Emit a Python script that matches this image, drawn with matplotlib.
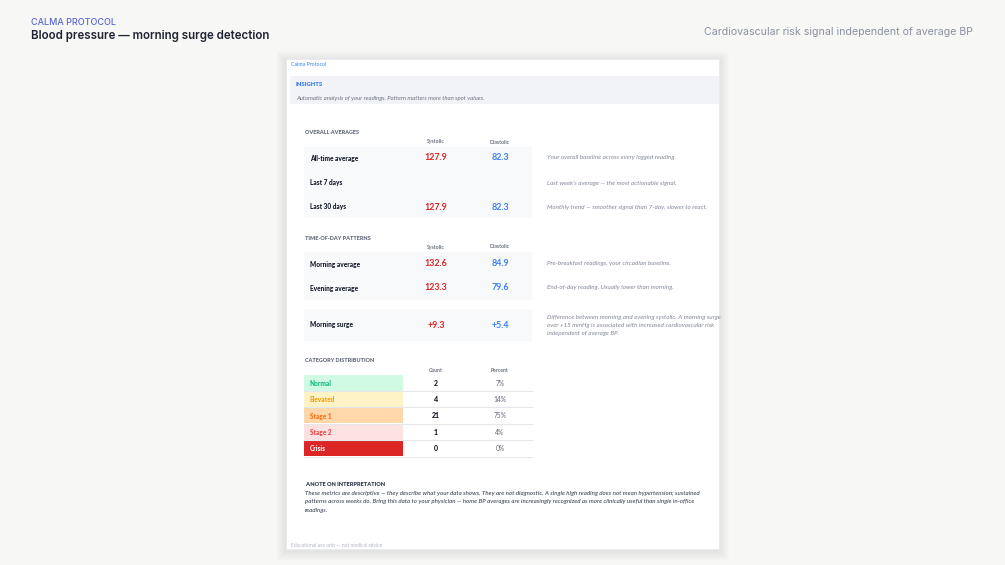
import matplotlib
matplotlib.use("Agg")
import matplotlib.pyplot as plt
from matplotlib.patches import Rectangle

# ---- data ----
avg_labels = ["All-time average", "Last 7 days", "Last 30 days"]
avg_sys = ["127.9", "", "127.9"]
avg_dia = ["82.3", "", "82.3"]
avg_notes = ["Your overall baseline across every logged reading.",
             "Last week\u2019s average \u2014 the most actionable signal.",
             "Monthly trend \u2014 smoother signal than 7-day, slower to react."]

tod_labels = ["Morning average", "Evening average"]
tod_sys = ["132.6", "123.3"]
tod_dia = ["84.9", "79.6"]
tod_notes = ["Pre-breakfast readings, your circadian baseline.",
             "End-of-day reading. Usually lower than morning."]

surge_sys = "+9.3"
surge_dia = "+5.4"
surge_note = ["Difference between morning and evening systolic. A morning surge",
              "over +15 mmHg is associated with increased cardiovascular risk",
              "independent of average BP."]

categories = ["Normal", "Elevated", "Stage 1", "Stage 2", "Crisis"]
counts = [2, 4, 21, 1, 0]
percents = ["7%", "14%", "75%", "4%", "0%"]
cat_bg = ["#d1fae5", "#fef3c7", "#fed7aa", "#fee2e2", "#dc2626"]
cat_fg = ["#10b981", "#f59e0b", "#f97316", "#ef4444", "#ffffff"]

note_lines = ["These metrics are descriptive \u2014 they describe what your data shows. They are not diagnostic. A single high reading does not mean hypertension; sustained",
              "patterns across weeks do. Bring this data to your physician \u2014 home BP averages are increasingly recognized as more clinically useful than single in-office",
              "readings."]

RED = "#dc2626"
BLUE = "#3b82f6"
DARK = "#111827"
GRAY = "#6b7280"
NOTE = "#8a90a0"
DOC = "Lato"

fig = plt.figure(figsize=(10.05, 5.65), dpi=100)
fig.patch.set_facecolor("#f7f7f5")
ax = fig.add_axes([0, 0, 1, 1])
ax.set_xlim(0, 1005)
ax.set_ylim(565, 0)
ax.axis("off")

# header outside the page
ax.text(31, 22.5, "CALMA PROTOCOL", fontsize=6.5, color="#5a67d8", family="Inter",
        fontweight="medium", va="center", ha="left")
ax.text(31, 36, "Blood pressure \u2014 morning surge detection", fontsize=8.3, color="#1f2433",
        family="Inter", fontweight="semibold", va="center", ha="left")
ax.text(973, 32, "Cardiovascular risk signal independent of average BP", fontsize=7.6,
        color="#8a90a0", family="Inter", va="center", ha="right")

# page with a soft shadow
px0, py0, px1, py1 = 286, 59, 719, 549
for k in range(10, 0, -1):
    ax.add_patch(Rectangle((px0 - k, py0 - k + 2), px1 - px0 + 2 * k, py1 - py0 + 2 * k,
                           facecolor="#000000", alpha=0.006, edgecolor="none"))
page = Rectangle((px0, py0), px1 - px0, py1 - py0, facecolor="white", edgecolor="#e5e7eb", lw=0.4)
ax.add_patch(page)

ax.text(291, 64, "Calma Protocol", fontsize=3.8, color=BLUE, family=DOC, va="center")
ax.add_patch(Rectangle((290, 76), px1 - 290, 28, facecolor="#f1f3f6", edgecolor="none"))
ax.text(296, 84, "INSIGHTS", fontsize=4.3, color=BLUE, family=DOC, fontweight=800, va="center")
ax.text(296, 98, "Automatic analysis of your readings. Pattern matters more than spot values.",
        fontsize=4.3, color=GRAY, family=DOC, style="italic", va="center")

XL, XS, XD, XN = 310, 436, 500, 547


def section(y, title, c1="Systolic", c2="Diastolic", dy=10):
    ax.text(305, y, title, fontsize=4.0, color=GRAY, family=DOC, fontweight=800, va="center")
    ax.text(XS, y + dy, c1, fontsize=3.7, color=GRAY, family=DOC, fontweight=700, ha="center", va="center")
    ax.text(XD, y + dy, c2, fontsize=3.7, color=GRAY, family=DOC, fontweight=700, ha="center", va="center")


def metric_rows(ys, labels, sys_vals, dia_vals):
    for y, lab, s, d in zip(ys, labels, sys_vals, dia_vals):
        ax.text(XL, y, lab, fontsize=4.7, color=DARK, family=DOC, fontweight=900, va="center")
        ax.text(XS, y, s, fontsize=6.4, color=RED, family=DOC, fontweight=700, ha="center", va="center")
        ax.text(XD, y, d, fontsize=6.4, color=BLUE, family=DOC, fontweight=700, ha="center", va="center")


def note(x, y, txt):
    t = ax.text(x, y, txt, fontsize=4.5, color=NOTE, family=DOC, style="italic", fontweight=500, va="center")
    t.set_clip_path(page)


# overall averages
section(132, "OVERALL AVERAGES")
ax.add_patch(Rectangle((304, 147), 228, 71, facecolor="#f8f9fb", edgecolor="none"))
ys = [158, 183, 207]
metric_rows(ys, avg_labels, avg_sys, avg_dia)
for y, t in zip(ys, avg_notes):
    note(XN, y, t)

# time of day
section(238, "TIME-OF-DAY PATTERNS", dy=9)
ax.add_patch(Rectangle((304, 252), 228, 48, facecolor="#f8f9fb", edgecolor="none"))
ys = [264, 288]
metric_rows(ys, tod_labels, tod_sys, tod_dia)
for y, t in zip(ys, tod_notes):
    note(XN, y, t)
ax.add_patch(Rectangle((304, 309), 228, 32, facecolor="#f8f9fb", edgecolor="none"))
metric_rows([325], ["Morning surge"], [surge_sys], [surge_dia])
for i, t in enumerate(surge_note):
    note(XN, 317 + 8.2 * i, t)

# category distribution
section(360, "CATEGORY DISTRIBUTION", "Count", "Percent")
row_h = 16.4
for i, (c, n, p, bg, fg) in enumerate(zip(categories, counts, percents, cat_bg, cat_fg)):
    top = 375 + i * row_h
    yc = top + row_h / 2
    ax.add_patch(Rectangle((304, top), 99, row_h - 0.8, facecolor=bg, edgecolor="none"))
    ax.plot([304, 532], [top + row_h - 0.4, top + row_h - 0.4], color="#e5e7eb", lw=0.8)
    ax.text(XL, yc, c, fontsize=4.7, color=fg, family=DOC, fontweight=900, va="center")
    ax.text(XS, yc, str(n), fontsize=5.0, color=DARK, family=DOC, fontweight=900, ha="center", va="center")
    ax.text(XD, yc, p, fontsize=4.8, color=GRAY, family=DOC, fontweight=500, ha="center", va="center")

# interpretation note
ax.text(305, 485, "A NOTE ON INTERPRETATION", fontsize=4.1, color="#374151", family=DOC,
        fontweight=800, va="center")
for i, t in enumerate(note_lines):
    ax.text(305, 493.5 + 8.3 * i, t, fontsize=4.45, color="#4b5563", family=DOC, style="italic",
            fontweight=600, va="center")

ax.text(291, 545, "Educational use only \u2014 not medical advice", fontsize=3.55, color="#b0b6c3",
        family=DOC, va="center")

fig.savefig("out.png", dpi=100, facecolor=fig.get_facecolor())
